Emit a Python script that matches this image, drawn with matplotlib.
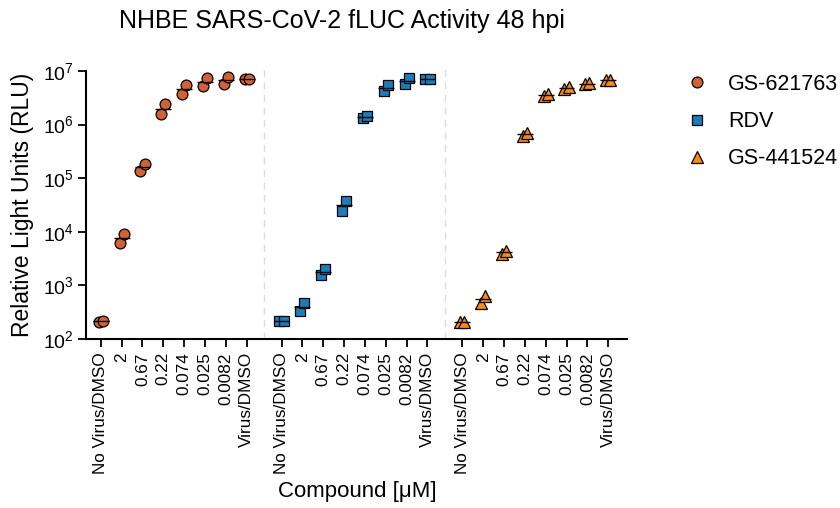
import matplotlib
matplotlib.use("Agg")
import matplotlib.pyplot as plt
from matplotlib.lines import Line2D
import numpy as np

# NHBE SARS-CoV-2 fLUC, 48 hpi - tiga senyawa, dua replikat per konsentrasi

plt.rcParams['font.family'] = ['Liberation Sans', 'DejaVu Sans']
plt.rcParams['mathtext.fontset'] = 'custom'
plt.rcParams['mathtext.rm'] = 'Liberation Sans'
plt.rcParams['mathtext.it'] = 'Liberation Sans:italic'

kategori = ["No Virus/DMSO", "2", "0.67", "0.22", "0.074", "0.025", "0.0082", "Virus/DMSO"]
senyawa = ["GS-621763", "RDV", "GS-441524"]

# replikat 1 dan 2 (RLU)
gs621763_rep1 = [210, 6300, 1.38e5, 1.56e6, 3.67e6, 5.3e6, 5.7e6, 7.0e6]
gs621763_rep2 = [218, 9000, 1.84e5, 2.42e6, 5.48e6, 7.3e6, 7.6e6, 7.0e6]
rdv_rep1 = [215, 333, 1560, 24800, 1.35e6, 4.24e6, 5.7e6, 7.1e6]
rdv_rep2 = [217, 463, 1995, 38000, 1.47e6, 5.48e6, 7.3e6, 7.1e6]
gs441524_rep1 = [208, 463, 3850, 6.1e5, 3.42e6, 4.55e6, 5.6e6, 6.8e6]
gs441524_rep2 = [212, 643, 4390, 7.06e5, 3.72e6, 5.1e6, 5.9e6, 6.9e6]

warna = ["#D5622E", "#1580C0", "#FF8C00"]
penanda = ["o", "s", "^"]
ukuran = [7.8, 7.5, 9.2]

data = [
    (gs621763_rep1, gs621763_rep2),
    (rdv_rep1, rdv_rep2),
    (gs441524_rep1, gs441524_rep2),
]

jarak_grup = 8.67
geser = [-0.1, 0.1]

fig = plt.figure(figsize=(8.4, 5.08), dpi=100)
ax = fig.add_axes([86 / 840, 1 - 339 / 508, 541 / 840, 268 / 508])

posisi_tick = []
label_tick = []
for g, (rep1, rep2) in enumerate(data):
    x = np.arange(len(kategori)) + g * jarak_grup
    for k, rep in enumerate([rep1, rep2]):
        ax.plot(x + geser[k], rep, linestyle="none", marker=penanda[g],
                markersize=ukuran[g], markerfacecolor=warna[g],
                markeredgecolor="black", markeredgewidth=0.9, zorder=3)
    rata = (np.array(rep1) + np.array(rep2)) / 2
    ax.hlines(rata, x - 0.38, x + 0.38, color="black", lw=1.0, zorder=4)
    posisi_tick.extend(x)
    label_tick.extend(kategori)

# garis pemisah antar grup
for g in range(1, len(senyawa)):
    xs = g * jarak_grup - (jarak_grup - 7) / 2
    ax.plot([xs, xs], [0, 1.015], transform=ax.get_xaxis_transform(), clip_on=False,
            color="#dcdcdc", lw=1.0, linestyle=(0, (5, 4)), zorder=1)

ax.set_yscale("log")
ax.set_ylim(100, 1e7)
ax.set_xlim(-0.71, 2 * jarak_grup + 7 + 0.9)
ax.set_yticks([1e2, 1e3, 1e4, 1e5, 1e6, 1e7])
ax.set_yticklabels([f"10$^{{{i}}}$" for i in range(2, 8)])
ax.minorticks_off()
ax.set_xticks(posisi_tick)
ax.set_xticklabels(label_tick, rotation=90)

ax.spines["top"].set_visible(False)
ax.spines["right"].set_visible(False)
for s in ["left", "bottom"]:
    ax.spines[s].set_linewidth(1.5)
ax.tick_params(axis="both", which="major", length=5.5, width=1.3, labelsize=14, direction="out")
ax.tick_params(axis="x", labelsize=12.3, pad=4)

fig.text(342 / 840, 1 - 21 / 508, "NHBE SARS-CoV-2 fLUC Activity 48 hpi",
         ha="center", va="center", fontsize=18)
fig.text(23 / 840, 1 - 205 / 508, "Relative Light Units (RLU)",
         ha="center", va="center", rotation=90, fontsize=16.5)
fig.text(357 / 840, 1 - 492 / 508, "Compound [μM]",
         ha="center", va="center", fontsize=16)

handle = [Line2D([], [], linestyle="none", marker=penanda[i], markersize=ukuran[i],
                 markerfacecolor=warna[i], markeredgecolor="black", markeredgewidth=0.9)
          for i in range(len(senyawa))]
fig.legend(handle, senyawa, loc="upper left", bbox_to_anchor=(675.5 / 840, 1 - 74 / 508),
           frameon=False, fontsize=15.5, labelspacing=0.75, handletextpad=0.45,
           borderaxespad=0, borderpad=0)

fig.savefig("out.png", dpi=100)
